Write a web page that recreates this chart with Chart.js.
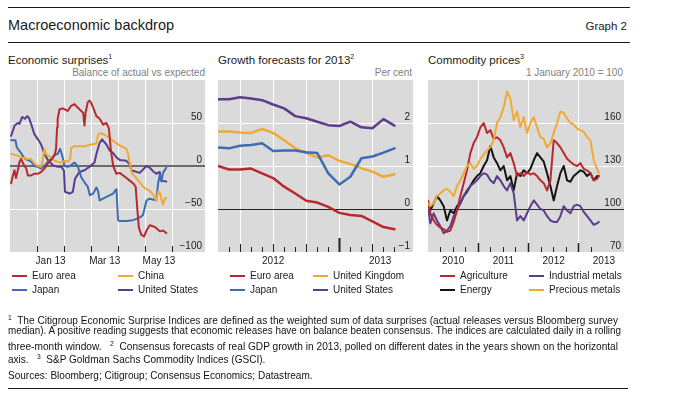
<!DOCTYPE html>
<html>
<head>
<meta charset="utf-8">
<title>Macroeconomic backdrop</title>
<script src="https://cdn.jsdelivr.net/npm/chart.js@4.4.1/dist/chart.umd.min.js"></script>
<style>
  html, body { margin:0; padding:0; background:#fff; }
  body { position:relative; width:677px; height:393px; overflow:hidden;
         font-family:"Liberation Sans", Arial, Helvetica, sans-serif; color:#1a1a1a; }
  .a { position:absolute; white-space:nowrap; }
  .rule { position:absolute; left:8px; width:622px; height:1px; background:#1a1a1a; }
  .title { font-size:14.5px; line-height:16px; }
  .ptitle { font-size:11.5px; line-height:14px; }
  .sup { font-size:7px; vertical-align:5px; }
  .sub { font-size:10px; line-height:12px; color:#808080; text-align:right; }
  canvas.p { position:absolute; }
  .lg { position:absolute; font-size:10px; line-height:12px; white-space:nowrap; color:#1a1a1a; }
  .sw { position:absolute; width:15px; height:2px; }
  .fn { position:absolute; left:8px; font-size:10.5px; line-height:13px; white-space:pre; transform-origin:0 50%; color:#111; }
  .fn .s { font-size:7px; vertical-align:4px; }
</style>
</head>
<body>
<div class="rule" style="top:7px"></div>
<div class="a title" style="left:8px;top:17px">Macroeconomic backdrop</div>
<div class="a" style="left:527px;top:19px;width:100px;text-align:right;font-size:11.5px;line-height:14px">Graph 2</div>
<div class="rule" style="top:42px"></div>

<div class="a ptitle" style="left:8px;top:50px">Economic surprises<span class="sup">1</span></div>
<div class="a ptitle" style="left:218px;top:50px">Growth forecasts for 2013<span class="sup">2</span></div>
<div class="a ptitle" style="left:428px;top:50px">Commodity prices<span class="sup">3</span></div>

<div class="a sub" style="left:55px;top:67px;width:150px">Balance of actual vs expected</div>
<div class="a sub" style="left:330px;top:67px;width:82px">Per cent</div>
<div class="a sub" style="left:490px;top:67px;width:133px">1 January 2010 = 100</div>

<canvas id="c1" class="p" width="195" height="192" style="left:10px;top:80px"></canvas>
<canvas id="c2" class="p" width="195" height="192" style="left:218px;top:80px"></canvas>
<canvas id="c3" class="p" width="196" height="192" style="left:428px;top:80px"></canvas>

<div id="legends"></div>

<div id="fn1" class="fn" style="top:311px"><span class="s">1</span>  The Citigroup Economic Surprise Indices are defined as the weighted sum of data surprises (actual releases versus Bloomberg survey</div>
<div id="fn2" class="fn" style="top:324px">median). A positive reading suggests that economic releases have on balance beaten consensus. The indices are calculated daily in a rolling</div>
<div id="fn3" class="fn" style="top:337px">three-month window.   <span class="s">2</span>  Consensus forecasts of real GDP growth in 2013, polled on different dates in the years shown on the horizontal</div>
<div id="fn4" class="fn" style="top:350px">axis.   <span class="s">3</span>  S&amp;P Goldman Sachs Commodity Indices (GSCI).</div>
<div id="src" class="fn" style="top:369px">Sources: Bloomberg; Citigroup; Consensus Economics; Datastream.</div>
<div class="rule" style="top:388px;width:620px"></div>

<script>
// ---------------- DATA ----------------
// Panel 1: Economic surprises (x = months since 1 Dec 2012, y = index)
const euroAreaSurprise = [[0.04,-20],[0.10,-12],[0.165,-5],[0.22,-14],[0.29,-5],[0.35,5],[0.41,8],[0.50,2],[0.60,-3],[0.66,-11],[0.78,-11],[0.90,-9],[1.03,-9],[1.15,-7],[1.27,-3],[1.40,3],[1.52,7],[1.64,12],[1.70,20],[1.74,45],[1.76,55],[1.83,66],[1.95,67],[2.13,64],[2.26,70],[2.38,72],[2.50,68],[2.63,64],[2.70,62],[2.75,47],[2.79,62],[2.87,74],[2.93,76],[2.99,74],[3.07,68],[3.19,58],[3.31,55],[3.44,48],[3.56,50],[3.65,44],[3.72,20],[3.81,0],[3.93,-9],[4.05,-8],[4.18,-11],[4.30,-14],[4.42,-17],[4.54,-20],[4.64,-24],[4.70,-50],[4.76,-72],[4.85,-80],[4.95,-82],[5.04,-75],[5.16,-69],[5.28,-70],[5.40,-72],[5.53,-76],[5.65,-75],[5.77,-78]];
const japanSurprise = [[0.04,30],[0.20,30],[0.25,22],[0.29,20],[0.41,15],[0.53,9],[0.66,7],[0.78,5],[0.90,0],[1.03,-1],[1.15,-3],[1.27,0],[1.40,5],[1.52,8],[1.64,13],[1.76,14],[1.85,20],[1.93,12],[2.01,0],[2.13,-1],[2.26,1],[2.38,4],[2.50,0],[2.63,-13],[2.75,-19],[2.87,-24],[2.95,-34],[3.07,-32],[3.19,-25],[3.25,-29],[3.31,-40],[3.56,-36],[3.81,-32],[3.87,-29],[3.93,-27],[3.96,-45],[3.99,-63],[4.05,-64],[4.30,-64],[4.54,-63],[4.79,-60],[4.91,-57],[5.04,-40],[5.16,-38],[5.28,-39],[5.40,-40],[5.47,-20],[5.53,-10],[5.59,-18],[5.65,-8],[5.77,-2]];
const chinaSurprise = [[0.04,14],[0.17,13],[0.29,12],[0.41,10],[0.53,9],[0.66,8],[0.78,8],[0.90,3],[1.03,0],[1.15,-1],[1.21,7],[1.27,20],[1.33,14],[1.40,12],[1.52,10],[1.64,6],[1.76,5],[1.89,4],[2.01,6],[2.13,5],[2.22,8],[2.26,21],[2.38,23],[2.50,23],[2.75,23],[2.99,25],[3.19,26],[3.25,36],[3.31,38],[3.44,37],[3.56,35],[3.68,33],[3.81,29],[4.05,24],[4.30,20],[4.36,14],[4.48,-6],[4.54,-10],[4.67,-14],[4.79,-19],[4.91,-24],[5.04,-27],[5.16,-29],[5.28,-33],[5.40,-40],[5.47,-30],[5.53,-31],[5.59,-38],[5.65,-45],[5.72,-38],[5.77,-37]];
const usSurprise = [[0.04,35],[0.17,47],[0.29,50],[0.35,49],[0.45,57],[0.55,55],[0.64,58],[0.70,56],[0.78,49],[0.90,37],[1.03,31],[1.15,25],[1.27,14],[1.40,7],[1.58,1],[1.76,-1],[1.89,-1],[1.99,-5],[2.03,-30],[2.20,-32],[2.32,-30],[2.40,-15],[2.56,-7],[2.75,-5],[2.93,-1],[3.12,4],[3.19,14],[3.31,27],[3.40,31],[3.56,25],[3.68,18],[3.81,15],[3.93,10],[4.05,7],[4.30,6],[4.42,2],[4.48,-5],[4.79,-8],[5.04,0],[5.16,-2],[5.28,-6],[5.40,-9],[5.53,-7],[5.59,-17],[5.77,-18]];
const surpriseTickLabels = [[1.5,'Jan 13'],[3.5,'Mar 13'],[5.5,'May 13']];

// Panel 2: Growth forecasts for 2013 (x = poll month, months since Jan 2012; y = per cent)
const pollMonths = [1,2,3,4,5,6,7,8,9,10,11,12,13,14,15,16,17];
const euroAreaForecast = [1.0,0.92,0.92,0.94,0.83,0.72,0.52,0.36,0.19,0.15,0.05,-0.09,-0.14,-0.16,-0.29,-0.42,-0.47];
const japanForecast = [1.43,1.41,1.47,1.49,1.53,1.35,1.36,1.36,1.32,1.3,0.83,0.57,0.75,1.18,1.22,1.31,1.41];
const ukForecast = [1.8,1.8,1.78,1.77,1.86,1.77,1.6,1.41,1.3,1.2,1.25,1.12,1.05,0.95,0.87,0.75,0.81];
const usForecast = [2.55,2.55,2.6,2.57,2.53,2.43,2.34,2.16,2.11,2.03,1.95,1.93,2.03,1.9,1.88,2.09,1.94];
const forecastTickLabels = [[6,'2012'],[15.7,'2013']];

// Panel 3: Commodity prices (x = decimal year; 1 January 2010 = 100)
const commodityDates = [2010.0,2010.046,2010.113,2010.179,2010.246,2010.312,2010.378,2010.445,2010.511,2010.577,2010.644,2010.710,2010.776,2010.843,2010.909,2010.975,2011.042,2011.108,2011.175,2011.241,2011.307,2011.374,2011.440,2011.506,2011.573,2011.639,2011.705,2011.772,2011.838,2011.904,2011.971,2012.037,2012.104,2012.170,2012.236,2012.303,2012.369,2012.435,2012.502,2012.568,2012.634,2012.701,2012.767,2012.833,2012.900,2012.966,2013.032,2013.099,2013.165,2013.232,2013.298,2013.364,2013.397];
const agriculture = [106,97,92,89,87,86,84,85,91,99,109,118,127,139,146,150,157,160,153,155,149,150,148,143,136,139,132,123,125,123,126,124,125,123,120,118,113,120,148,146,143,139,135,133,131,130,132,128,127,125,120,121,123];
const energy = [105,99,104,109,106,102,92,99,97,102,104,109,112,116,120,123,125,130,134,144,136,132,127,130,120,123,113,125,123,127,125,128,134,139,136,133,125,116,106,116,125,130,120,119,123,125,127,126,123,125,120,123,123];
const industrialMetals = [102,90,97,92,88,83,85,88,95,99,104,109,113,116,118,120,123,125,124,120,118,123,120,116,113,118,111,92,95,92,97,102,106,103,100,99,95,92,91,91,95,102,99,97,102,103,102,98,95,92,89,90,91];
const preciousMetals = [104,102,104,109,111,113,114,112,109,116,120,125,130,132,128,130,135,138,141,143,148,160,164,171,182,177,162,168,157,164,153,160,164,157,150,149,143,146,153,160,168,167,163,160,159,156,155,154,150,148,134,128,125];
const commodityTickLabels = [[2010.5,'2010'],[2011.5,'2011'],[2012.5,'2012'],[2013.5,'2013']];

// ---------------- STYLE ----------------
const COL = { red:'#b8292f', orange:'#f1a935', blue:'#3c6db4', purple:'#5a3d8c', black:'#141414' };
Chart.defaults.font.family = '"Liberation Sans", Arial, Helvetica, sans-serif';
Chart.defaults.font.size = 10;
Chart.defaults.color = '#1a1a1a';

const plotBg = {
  id: 'plotBg',
  beforeDraw(chart) {
    const { ctx, chartArea: a } = chart;
    ctx.save();
    ctx.fillStyle = '#dadada';
    ctx.fillRect(a.left, a.top, a.right - a.left, a.bottom - a.top);
    ctx.restore();
  }
};

const near = (a, b) => Math.abs(a - b) < 1e-6;
const fmtNum = v => (v < 0 ? '\u2212' + Math.abs(v) : String(v));

function pairs(arr) { return arr.map(p => ({ x: p[0], y: p[1] })); }
function zip(xs, ys) { return xs.map((x, i) => ({ x: x, y: ys[i] })); }

function makePanel(id, p) {
  const maxTick = Math.max.apply(null, p.marks.map(m => m[1]));
  const tickVals = [];
  p.marks.forEach(m => tickVals.push(m[0]));
  p.labels.forEach(l => { if (!tickVals.some(v => near(v, l[0]))) tickVals.push(l[0]); });
  tickVals.sort((a, b) => a - b);
  const markOf = v => p.marks.find(m => near(m[0], v));
  const labelOf = v => { const l = p.labels.find(x => near(x[0], v)); return l ? l[1] : ''; };

  return new Chart(document.getElementById(id), {
    type: 'line',
    data: { datasets: p.datasets },
    options: {
      responsive: false, animation: false, devicePixelRatio: 1,
      layout: { padding: 0 },
      plugins: { legend: { display: false }, tooltip: { enabled: false } },
      elements: { point: { radius: 0 }, line: { tension: 0, borderJoinStyle: 'round', borderCapStyle: 'round' } },
      scales: {
        x: {
          type: 'linear', min: p.xMin, max: p.xMax,
          afterBuildTicks: s => { s.ticks = tickVals.map(v => ({ value: v })); },
          afterFit: s => { s.height = 20; s.paddingLeft = 0; s.paddingRight = 0; },
          border: { display: false },
          grid: {
            drawOnChartArea: true, drawTicks: true, tickLength: -maxTick,
            lineWidth: 1,
            color: c => (c.tick && p.gridX.some(v => near(v, c.tick.value))) ? '#ffffff' : 'rgba(0,0,0,0)',
            tickColor: c => (c.tick && markOf(c.tick.value)) ? '#222222' : 'rgba(0,0,0,0)',
            tickWidth: c => { const m = c.tick && markOf(c.tick.value); return m ? m[2] : 1; },
            tickBorderDash: c => { const m = c.tick && markOf(c.tick.value); return [m ? m[1] : 0, 60]; }
          },
          ticks: {
            autoSkip: false, maxRotation: 0, minRotation: 0,
            padding: 3.5 + maxTick,
            color: '#1a1a1a', font: { size: 10 },
            callback: v => labelOf(v)
          }
        },
        y: {
          type: 'linear', position: 'right', min: p.yMin, max: p.yMax,
          afterFit: s => { s.width = 0; s.paddingTop = 0; s.paddingBottom = 0; },
          border: { display: false },
          grid: {
            drawTicks: false,
            color: c => {
              if (!c.tick) return 'rgba(0,0,0,0)';
              const v = c.tick.value;
              if (near(v, p.baseline)) return p.baseColor;
              if (near(v, p.yMin) || near(v, p.yMax)) return 'rgba(0,0,0,0)';
              return '#ffffff';
            },
            lineWidth: c => (c.tick && near(c.tick.value, p.baseline)) ? p.baseWidth : 1
          },
          ticks: {
            stepSize: p.yStep, mirror: true, padding: -3, labelOffset: -6,
            color: '#1a1a1a', font: { size: 10 },
            callback: v => (near(v, p.yMax) ? '' : fmtNum(v))
          }
        }
      }
    },
    plugins: [plotBg]
  });
}

// Panel 1
const monthMarks = [1,2,3,4,5,6].map(v => [v, 6, 1]);
makePanel('c1', {
  xMin: 0, xMax: 7.2, marks: monthMarks, gridX: [1,2,3,4,5,6], labels: surpriseTickLabels,
  yMin: -100, yMax: 100, yStep: 50, baseline: 0, baseColor: '#6b6b6b', baseWidth: 2,
  datasets: [
    { label: 'Euro area', data: pairs(euroAreaSurprise), borderColor: COL.red, borderWidth: 2 },
    { label: 'China', data: pairs(chinaSurprise), borderColor: COL.orange, borderWidth: 2 },
    { label: 'Japan', data: pairs(japanSurprise), borderColor: COL.blue, borderWidth: 2 },
    { label: 'United States', data: pairs(usSurprise), borderColor: COL.purple, borderWidth: 2 }
  ]
});

// Panel 2
const pollMarks = [];
for (let m = 2; m <= 17; m++) {
  if (m === 12) pollMarks.push([m, 14, 2]);
  else if (m % 3 === 0) pollMarks.push([m, 8, 1]);
  else pollMarks.push([m, 5, 1]);
}
makePanel('c2', {
  xMin: 1, xMax: 18.68, marks: pollMarks, gridX: [3,6,9,12,15], labels: forecastTickLabels,
  yMin: -1, yMax: 3, yStep: 1, baseline: 0, baseColor: '#222222', baseWidth: 1,
  datasets: [
    { label: 'Euro area', data: zip(pollMonths, euroAreaForecast), borderColor: COL.red, borderWidth: 2.5 },
    { label: 'Japan', data: zip(pollMonths, japanForecast), borderColor: COL.blue, borderWidth: 2.5 },
    { label: 'United Kingdom', data: zip(pollMonths, ukForecast), borderColor: COL.orange, borderWidth: 2.5 },
    { label: 'United States', data: zip(pollMonths, usForecast), borderColor: COL.purple, borderWidth: 2.5 }
  ]
});

// Panel 3
const quarterMarks = [];
for (let q = 1; q <= 13; q++) {
  const v = 2010 + q * 0.25;
  quarterMarks.push(q % 4 === 0 ? [v, 9, 1.5] : [v, 5, 1]);
}
makePanel('c3', {
  xMin: 2010, xMax: 2013.9, marks: quarterMarks, gridX: [2011,2012,2013], labels: commodityTickLabels,
  yMin: 70, yMax: 190, yStep: 30, baseline: 100, baseColor: '#2a2a2a', baseWidth: 1,
  datasets: [
    { label: 'Precious metals', data: zip(commodityDates, preciousMetals), borderColor: COL.orange, borderWidth: 2 },
    { label: 'Agriculture', data: zip(commodityDates, agriculture), borderColor: COL.red, borderWidth: 2 },
    { label: 'Industrial metals', data: zip(commodityDates, industrialMetals), borderColor: COL.purple, borderWidth: 2 },
    { label: 'Energy', data: zip(commodityDates, energy), borderColor: COL.black, borderWidth: 2 }
  ]
});

// Legends (2 columns x 2 rows per panel)
const legendSpecs = [
  { cols: [12, 118], items: [['Euro area', COL.red], ['China', COL.orange], ['Japan', COL.blue], ['United States', COL.purple]] },
  { cols: [230, 313], items: [['Euro area', COL.red], ['United Kingdom', COL.orange], ['Japan', COL.blue], ['United States', COL.purple]] },
  { cols: [440, 529], items: [['Agriculture', COL.red], ['Industrial metals', COL.purple], ['Energy', COL.black], ['Precious metals', COL.orange]] }
];
const lgHost = document.getElementById('legends');
legendSpecs.forEach(spec => {
  spec.items.forEach((it, i) => {
    const x = spec.cols[i % 2];
    const cy = i < 2 ? 276 : 290;
    const sw = document.createElement('div');
    sw.className = 'sw';
    sw.style.left = x + 'px'; sw.style.top = (cy - 1) + 'px'; sw.style.background = it[1];
    lgHost.appendChild(sw);
    const t = document.createElement('div');
    t.className = 'lg';
    t.style.left = (x + 20) + 'px'; t.style.top = (cy - 6) + 'px';
    t.textContent = it[0];
    lgHost.appendChild(t);
  });
});

// Footnote line fitting (condensed look)
const targets = { fn1: 610, fn2: 613, fn3: 610 };
const factors = [];
Object.keys(targets).forEach(id => {
  const el = document.getElementById(id);
  const w = el.getBoundingClientRect().width;
  const f = targets[id] / w;
  factors.push(f);
  el.style.transform = 'scaleX(' + f + ')';
});
const avgF = factors.reduce((a, b) => a + b, 0) / factors.length;
['fn4', 'src'].forEach(id => { document.getElementById(id).style.transform = 'scaleX(' + avgF + ')'; });
</script>
</body>
</html>
